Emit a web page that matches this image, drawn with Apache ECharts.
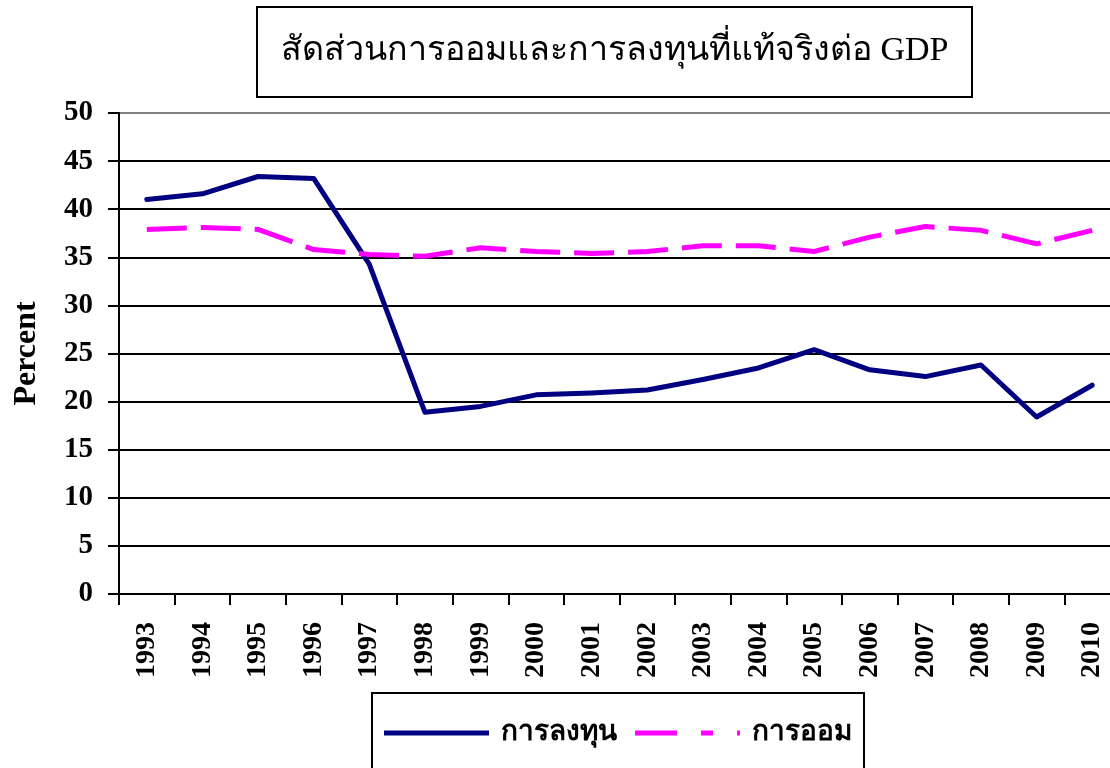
<!DOCTYPE html>
<html lang="th">
<head>
    <meta charset="UTF-8">
    <script src="https://cdn.jsdelivr.net/npm/echarts@6/dist/echarts.min.js"></script>
    <title>สัดส่วนการออมและการลงทุนที่แท้จริงต่อ GDP</title>
    <style>
        html, body { margin: 0; padding: 0; background: #fff; }
    </style>
</head>
<body>
<div id="main" style="width: 1110px;height: 768px"></div>
<script type="text/javascript">
    // ข้อมูล
    var years = ['1993', '1994', '1995', '1996', '1997', '1998', '1999', '2000', '2001',
        '2002', '2003', '2004', '2005', '2006', '2007', '2008', '2009', '2010'];
    var investment = [41.0, 41.6, 43.4, 43.2, 34.3, 18.9, 19.5, 20.7, 20.9,
        21.2, 22.3, 23.5, 25.4, 23.3, 22.6, 23.8, 18.4, 21.7];
    var saving = [37.9, 38.1, 37.9, 35.8, 35.3, 35.1, 36.0, 35.6, 35.4,
        35.6, 36.2, 36.2, 35.6, 37.1, 38.2, 37.8, 36.4, 37.8];
    var yTicks = [0, 5, 10, 15, 20, 25, 30, 35, 40, 45, 50];

    var serif = '"Liberation Serif", "Times New Roman", serif';

    // เส้นกริด: ดำ ยกเว้นเส้นบนสุดสีเทา
    var gridColors = yTicks.map(function (v) { return v === 50 ? '#808080' : '#000'; });

    // ไอคอนคำอธิบาย: เส้นทึบ และเส้นประแบบ Excel
    var solidIcon = 'path://M0,0L105,0L105,5L0,5Z';
    var dashIcon = 'path://M0,0L42,0L42,5L0,5Z M66,0L78,0L78,5L66,5Z M102,0L105,0L105,5L102,5Z';

    var myChart = echarts.init(document.getElementById("main"));

    myChart.setOption({
        animation: false,
        title: {
            text: "สัดส่วนการออมและการลงทุนที่แท้จริงต่อ GDP",
            left: 257,
            top: 7,
            padding: [27, 24, 29, 24],
            borderColor: '#000',
            borderWidth: 2,
            textStyle: {
                fontFamily: serif,
                fontWeight: 'normal',
                fontSize: 34,
                color: '#000'
            }
        },
        legend: {
            data: [
                { name: 'การลงทุน', icon: solidIcon, itemStyle: { color: '#000080' } },
                { name: 'การออม', icon: dashIcon, itemStyle: { color: '#FF00FF' } }
            ],
            left: 372,
            top: 693,
            padding: [26, 12, 30, 12],
            borderColor: '#000',
            borderWidth: 2,
            itemWidth: 105,
            itemHeight: 5,
            itemGap: 18,
            symbolKeepAspect: false,
            textStyle: {
                fontFamily: serif,
                fontWeight: 'bold',
                fontSize: 28,
                color: '#000',
                padding: [0, 0, 0, 7]
            }
        },
        grid: {
            left: 119,
            top: 113,
            right: -10,
            bottom: 174,
            outerBoundsMode: 'none',
            containLabel: false
        },
        xAxis: {
            type: 'category',
            data: years,
            boundaryGap: true,
            axisLine: { lineStyle: { color: '#000', width: 2 } },
            axisTick: { show: true, length: 11, lineStyle: { color: '#000', width: 2 } },
            axisLabel: {
                rotate: 90,
                margin: 28,
                interval: 0,
                fontFamily: serif,
                fontWeight: 'bold',
                fontSize: 28,
                color: '#000'
            }
        },
        yAxis: {
            type: 'value',
            min: 0,
            max: 50,
            interval: 5,
            name: 'Percent',
            nameLocation: 'middle',
            nameGap: 76,
            nameRotate: 90,
            nameTextStyle: {
                fontFamily: serif,
                fontWeight: 'bold',
                fontSize: 32,
                color: '#000'
            },
            axisLine: { show: true, lineStyle: { color: '#000', width: 2 } },
            axisTick: { show: true, length: 11, lineStyle: { color: '#000', width: 2 } },
            axisLabel: {
                margin: 26,
                fontFamily: serif,
                fontWeight: 'bold',
                fontSize: 29,
                color: '#000'
            },
            splitLine: { show: true, lineStyle: { color: gridColors, width: 2 } }
        },
        series: [
            {
                name: 'การลงทุน',
                type: 'line',
                data: investment,
                symbol: 'none',
                color: '#000080',
                lineStyle: { color: '#000080', width: 5, cap: 'round', join: 'round' }
            },
            {
                name: 'การออม',
                type: 'line',
                data: saving,
                symbol: 'none',
                color: '#FF00FF',
                lineStyle: { color: '#FF00FF', width: 5, type: [40, 14] }
            }
        ]
    });
</script>
</body>
</html>
